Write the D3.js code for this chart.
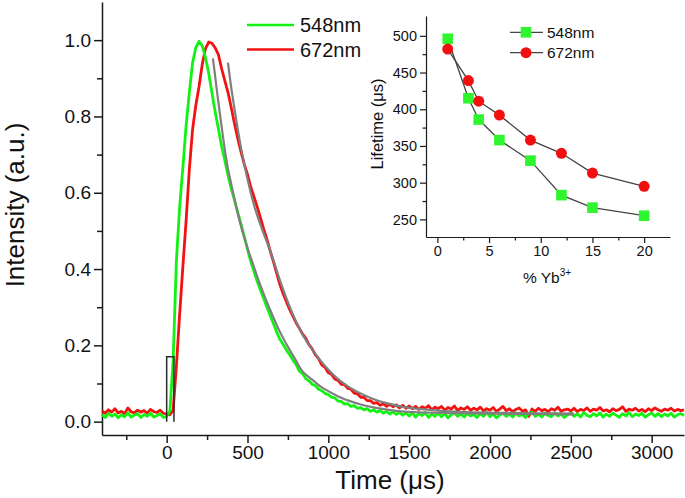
<!DOCTYPE html>
<html><head><meta charset="utf-8">
<script src="https://cdn.jsdelivr.net/npm/d3@7"></script>
<style>
body{margin:0;background:#fff}
svg{display:block}
text{font-family:"Liberation Sans",Arial,Helvetica,sans-serif;fill:#111}
</style>
</head><body>
<svg id="chart" width="685" height="498"></svg>
<script>
// ---------- DATA ----------
const timeStep = 20; // µs, sampling grid of the decay traces
const preStart = -400, mainStart = 20, tailStart = 1500;

// 548 nm decay (normalized intensity)
const green548Pre = [0.019,0.011,0.022,0.014,0.02,0.01,0.018,0.013,0.023,0.012,0.017,0.021,0.011,0.019,0.014,0.022,0.012,0.016,0.02,0.011,0.014];
const green548Main = [0.028,0.16,0.42,0.56,0.665,0.775,0.862,0.94,0.98,0.997,
  0.985,0.955,0.913,0.862,0.812,0.768,0.722,0.684,0.645,0.61,
  0.58,0.548,0.518,0.485,0.452,0.42,0.394,0.368,0.345,0.323,
  0.3,0.279,0.257,0.236,0.216,0.203,0.188,0.176,0.162,0.15,
  0.133,0.126,0.113,0.107,0.098,0.094,0.085,0.081,0.074,0.071,
  0.064,0.062,0.054,0.053,0.046,0.047,0.04,0.042,0.035,0.037,
  0.031,0.034,0.027,0.031,0.025,0.029,0.022,0.027,0.02,0.026,
  0.019,0.024,0.017,0.023];
const green548Tail = [0.015,0.023,0.012,0.021,0.016,0.024,0.011,0.02,0.014,0.022,
  0.013,0.021,0.01,0.018,0.023,0.014,0.02,0.012,0.022,0.015,
  0.019,0.011,0.021,0.014,0.024,0.013,0.02,0.01,0.017,0.022,
  0.014,0.02,0.012,0.023,0.015,0.019,0.011,0.021,0.025,0.014,
  0.02,0.012,0.022,0.016,0.013,0.023,0.015,0.02,0.011,0.018,
  0.022,0.014,0.021,0.012,0.024,0.016,0.013,0.021,0.015,0.023,
  0.012,0.02,0.014,0.022,0.017,0.011,0.021,0.015,0.024,0.013,
  0.02,0.016,0.022,0.012,0.018,0.023,0.014,0.021,0.013,0.02,
  0.015,0.022,0.012,0.018,0.021,0.016];

// 672 nm decay (normalized intensity)
const red672Pre = [0.028,0.022,0.031,0.025,0.034,0.023,0.027,0.021,0.036,0.026,0.023,0.03,0.025,0.029,0.022,0.032,0.026,0.024,0.03,0.022,0.02];
const red672Main = [0.018,0.03,0.145,0.28,0.405,0.525,0.66,0.765,0.828,0.878,
  0.936,0.978,0.995,0.992,0.98,0.962,0.925,0.893,0.862,0.822,
  0.78,0.742,0.707,0.675,0.648,0.615,0.59,0.563,0.535,0.505,
  0.478,0.448,0.42,0.39,0.36,0.336,0.315,0.295,0.277,0.26,
  0.245,0.23,0.219,0.202,0.191,0.175,0.165,0.148,0.142,0.128,
  0.124,0.112,0.108,0.098,0.097,0.087,0.085,0.075,0.073,0.064,
  0.064,0.055,0.055,0.048,0.05,0.043,0.047,0.04,0.046,0.039,
  0.044,0.036,0.043,0.035];
const red672Tail = [0.041,0.034,0.04,0.032,0.039,0.035,0.042,0.031,0.038,0.034,
  0.04,0.03,0.037,0.033,0.041,0.029,0.036,0.032,0.039,0.03,
  0.035,0.031,0.038,0.028,0.034,0.03,0.037,0.027,0.033,0.04,
  0.029,0.034,0.026,0.032,0.036,0.028,0.031,0.014,0.033,0.027,
  0.035,0.029,0.032,0.026,0.034,0.03,0.038,0.027,0.031,0.033,
  0.028,0.035,0.026,0.032,0.029,0.036,0.027,0.033,0.03,0.037,
  0.028,0.031,0.026,0.034,0.029,0.032,0.039,0.027,0.033,0.03,
  0.035,0.028,0.032,0.026,0.034,0.029,0.036,0.031,0.027,0.033,
  0.03,0.035,0.028,0.032,0.029,0.031];

// fitted decay curves (grey)
const fit548Time = [286,300,313,330,344,360,375,400,416,450,500,520,550,581,600,643,700,750,800,829,900,952,1000,1076,1200,1323,1447,1600,1800,2000,2250,2520];
const fit548Value = [0.952,0.905,0.86,0.805,0.76,0.712,0.672,0.622,0.59,0.528,0.455,0.43,0.393,0.356,0.335,0.29,0.236,0.196,0.16,0.138,0.11,0.092,0.08,0.063,0.045,0.034,0.027,0.024,0.022,0.021,0.02,0.019];
const fit672Time = [379,396,427,458,499,540,581,643,705,767,829,890,952,1014,1076,1138,1200,1262,1323,1385,1447,1550,1694,1850,2065,2300,2520];
const fit672Value = [0.941,0.886,0.80,0.722,0.638,0.568,0.515,0.445,0.365,0.295,0.237,0.195,0.16,0.13,0.106,0.088,0.074,0.062,0.053,0.046,0.04,0.034,0.028,0.025,0.023,0.022,0.021];

// excitation pulse
const pulseTime = [0,0,45,45];
const pulseValue = [0,0.17,0.17,0];

// main axis ticks
const xMajorTicks = [0,500,1000,1500,2000,2500,3000];
const xMinorTicks = [-250,250,750,1250,1750,2250,2750];
const yMajorTicks = [0,0.2,0.4,0.6,0.8,1.0];
const yMinorTicks = [0.1,0.3,0.5,0.7,0.9];

// inset: lifetime vs Yb3+ concentration
const ybPercent = [1,3,4,6,9,12,15,20];
const life548 = [496,415,386,358,330,283,266,255];
const life672 = [482,439,411,392,358,340,313,295];
const insetXMajor = [0,5,10,15,20];
const insetXMinor = [2.5,7.5,12.5,17.5];
const insetYMajor = [250,300,350,400,450,500];
const insetYMinor = [275,325,375,425,475];

const seriesNames = ["548nm","672nm"];
const seriesColors = ["#12f212","#f21212"];

// ---------- DRAW ----------
const svg = d3.select("#chart");
const x = d3.scaleLinear().domain([-400,3200]).range([102,684]);
const y = d3.scaleLinear().domain([-0.035,1.1]).range([435,2]);

const build = (start, arr) => arr.map((v,i)=>[start+i*timeStep, v]);
const green = [].concat(build(preStart,green548Pre), build(mainStart,green548Main), build(tailStart,green548Tail));
const red = [].concat(build(preStart,red672Pre), build(mainStart,red672Main), build(tailStart,red672Tail));
const line = d3.line().x(d=>x(d[0])).y(d=>y(d[1]));
const FONT = '"Liberation Sans",Arial,sans-serif';

function styleAxis(g, w){
  g.select(".domain").attr("stroke","#1a1a1a").attr("stroke-width",w);
  g.selectAll(".tick line").attr("stroke","#1a1a1a").attr("stroke-width",w);
}

// axes
const gx = svg.append("g").attr("transform","translate(0,435)")
  .call(d3.axisBottom(x).tickValues(xMajorTicks).tickSize(8).tickSizeOuter(0).tickPadding(3).tickFormat(d3.format("d")));
gx.selectAll("text").attr("font-size",19).style("font-family",FONT).attr("fill","#111");
styleAxis(gx,1.5);
const gxm = svg.append("g").attr("transform","translate(0,435)")
  .call(d3.axisBottom(x).tickValues(xMinorTicks).tickSize(5).tickSizeOuter(0).tickFormat(""));
gxm.select(".domain").remove(); styleAxis(gxm,1.5);

const gy = svg.append("g").attr("transform","translate(102,0)")
  .call(d3.axisLeft(y).tickValues(yMajorTicks).tickSize(8).tickSizeOuter(0).tickPadding(3).tickFormat(d3.format(".1f")));
gy.selectAll("text").attr("font-size",19).style("font-family",FONT).attr("fill","#111");
styleAxis(gy,1.5);
const gym = svg.append("g").attr("transform","translate(102,0)")
  .call(d3.axisLeft(y).tickValues(yMinorTicks).tickSize(5).tickSizeOuter(0).tickFormat(""));
gym.select(".domain").remove(); styleAxis(gym,1.5);

// axis titles
svg.append("text").attr("x",390).attr("y",489).attr("text-anchor","middle")
  .attr("font-size",26).text("Time (μs)");
svg.append("text").attr("transform","translate(24,205) rotate(-90)").attr("text-anchor","middle")
  .attr("font-size",26).text("Intensity (a.u.)");

// traces
svg.append("path").datum(red).attr("d",line).attr("fill","none")
  .attr("stroke",seriesColors[1]).attr("stroke-width",2.8).attr("stroke-linejoin","round");
svg.append("path").datum(green).attr("d",line).attr("fill","none")
  .attr("stroke",seriesColors[0]).attr("stroke-width",2.8).attr("stroke-linejoin","round");

const smooth = d3.line().x(d=>x(d[0])).y(d=>y(d[1])).curve(d3.curveMonotoneX);
svg.append("path").datum(fit548Time.map((t,i)=>[t,fit548Value[i]])).attr("d",smooth)
  .attr("fill","none").attr("stroke","#7f7f7f").attr("stroke-width",2.2);
svg.append("path").datum(fit672Time.map((t,i)=>[t,fit672Value[i]])).attr("d",smooth)
  .attr("fill","none").attr("stroke","#7f7f7f").attr("stroke-width",2.2);

svg.append("path").datum(pulseTime.map((t,i)=>[t,pulseValue[i]])).attr("d",line)
  .attr("fill","none").attr("stroke","#2a2a2a").attr("stroke-width",1.5);

// main legend
seriesNames.forEach((n,i)=>{
  const ly = 25 + i*24.5;
  svg.append("line").attr("x1",247).attr("x2",294).attr("y1",ly).attr("y2",ly)
    .attr("stroke",seriesColors[i]).attr("stroke-width",2.6);
  svg.append("text").attr("x",300).attr("y",ly+7).attr("font-size",20).text(n);
});

// ---------- INSET ----------
const xi = d3.scaleLinear().domain([-1.1,22.5]).range([426,670]);
const yi = d3.scaleLinear().domain([226,527]).range([237,16]);

const gxi = svg.append("g").attr("transform","translate(0,237)")
  .call(d3.axisBottom(xi).tickValues(insetXMajor).tickSize(6).tickSizeOuter(0).tickPadding(3));
gxi.selectAll("text").attr("font-size",14.5).style("font-family",FONT).attr("fill","#111");
styleAxis(gxi,1.2);
const gxim = svg.append("g").attr("transform","translate(0,237)")
  .call(d3.axisBottom(xi).tickValues(insetXMinor).tickSize(3.5).tickSizeOuter(0).tickFormat(""));
gxim.select(".domain").remove(); styleAxis(gxim,1.2);

const gyi = svg.append("g").attr("transform","translate(426,0)")
  .call(d3.axisLeft(yi).tickValues(insetYMajor).tickSize(6).tickSizeOuter(0).tickPadding(3));
gyi.selectAll("text").attr("font-size",14.5).style("font-family",FONT).attr("fill","#111");
styleAxis(gyi,1.2);
const gyim = svg.append("g").attr("transform","translate(426,0)")
  .call(d3.axisLeft(yi).tickValues(insetYMinor).tickSize(3.5).tickSizeOuter(0).tickFormat(""));
gyim.select(".domain").remove(); styleAxis(gyim,1.2);

const ilabel = svg.append("text").attr("x",547).attr("y",283).attr("text-anchor","middle").attr("font-size",15.5);
ilabel.append("tspan").text("% Yb");
ilabel.append("tspan").attr("font-size",10).attr("dy",-7).text("3+");
svg.append("text").attr("transform","translate(383,124) rotate(-90)").attr("text-anchor","middle")
  .attr("font-size",16.5).text("Lifetime (μs)");

const iline = d3.line().x((d,i)=>xi(ybPercent[i])).y(d=>yi(d));
svg.append("path").datum(life548).attr("d",iline).attr("fill","none").attr("stroke","#444").attr("stroke-width",1.3);
svg.append("path").datum(life672).attr("d",iline).attr("fill","none").attr("stroke","#444").attr("stroke-width",1.3);

svg.append("g").selectAll("rect").data(life548).join("rect")
  .attr("x",(d,i)=>xi(ybPercent[i])-5.3).attr("y",d=>yi(d)-5.3).attr("width",10.6).attr("height",10.6)
  .attr("fill","#2ef52e");
svg.append("g").selectAll("circle").data(life672).join("circle")
  .attr("cx",(d,i)=>xi(ybPercent[i])).attr("cy",d=>yi(d)).attr("r",5.5)
  .attr("fill","#f20f0f");

// inset legend
seriesNames.forEach((n,i)=>{
  const ly = 32.3 + i*20.4;
  svg.append("line").attr("x1",510).attr("x2",543).attr("y1",ly).attr("y2",ly).attr("stroke","#444").attr("stroke-width",1.3);
  if(i===0) svg.append("rect").attr("x",520.7).attr("y",ly-5.3).attr("width",10.6).attr("height",10.6).attr("fill","#2ef52e");
  else svg.append("circle").attr("cx",526).attr("cy",ly).attr("r",5.5).attr("fill","#f20f0f");
  svg.append("text").attr("x",547).attr("y",ly+5.5).attr("font-size",15.5).text(n);
});
</script>
</body></html>
